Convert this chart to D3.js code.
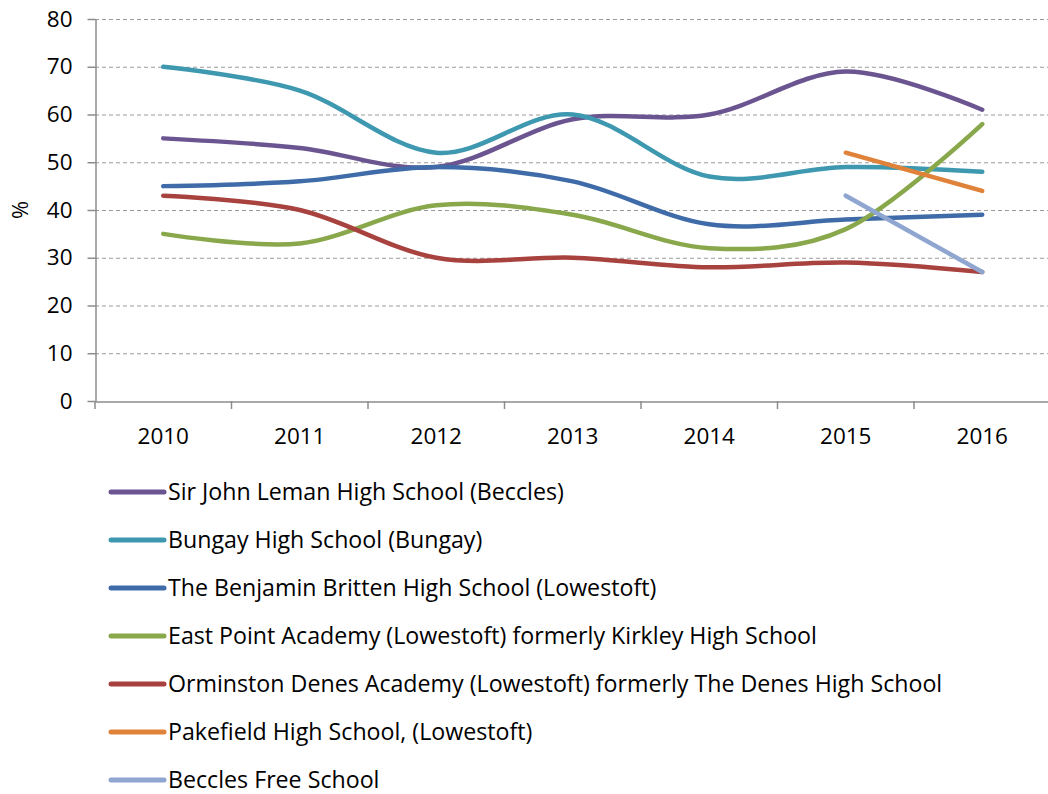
<!DOCTYPE html>
<html><head><meta charset="utf-8">
<script src="https://d3js.org/d3.v7.min.js"></script>
<style>body{margin:0;background:#fff}svg{display:block}</style>
</head><body><svg id="c" width="1048" height="794"></svg>
<script>
const years = ["2010","2011","2012","2013","2014","2015","2016"];
const yTicks = [0,10,20,30,40,50,60,70,80];
const seriesNames = [
  "Sir John Leman High School (Beccles)",
  "Bungay High School (Bungay)",
  "The Benjamin Britten High School (Lowestoft)",
  "East Point Academy (Lowestoft) formerly Kirkley High School",
  "Orminston Denes Academy (Lowestoft) formerly The Denes High School",
  "Pakefield High School, (Lowestoft)",
  "Beccles Free School"
];
const sirJohnLeman = [55,53,49,59,60,69,61];
const bungay = [70,65,52,60,47,49,48];
const benjaminBritten = [45,46,49,46,37,38,39];
const eastPoint = [35,33,41,39,32,36,58];
const orminstonDenes = [43,40,30,30,28,29,27];
const pakefield = [null,null,null,null,null,52,44];
const becclesFree = [null,null,null,null,null,43,27];
const seriesValues = [sirJohnLeman,bungay,benjaminBritten,eastPoint,orminstonDenes,pakefield,becclesFree];
const colors = ["#6B5591","#3E98B0","#3F6CA8","#89A74B","#A8423F","#E0823A","#8FA6D0"];

const svg = d3.select("#c");
const L=95, R=1050.5, T=19, B=401;
const x = d3.scaleBand().domain(years).range([L,R]);
const y = d3.scaleLinear().domain([0,80]).range([B,T]);
const font = "'Open Sans', 'Noto Sans', sans-serif";

// gridlines
svg.append("g").selectAll("line").data(yTicks.filter(d=>d>0)).join("line")
  .attr("x1",L).attr("x2",R).attr("y1",d=>y(d)+0.5).attr("y2",d=>y(d)+0.5)
  .attr("stroke","#9a9a9a").attr("stroke-width",1).attr("stroke-dasharray","4,3");

// y axis
const ya = svg.append("g").attr("transform",`translate(${L+0.5},0)`)
  .call(d3.axisLeft(y).tickValues(yTicks).tickSize(8).tickPadding(15).tickSizeOuter(0));
ya.select(".domain").attr("stroke","#8c8c8c").attr("stroke-width",1.5);
ya.selectAll(".tick line").attr("stroke","#8c8c8c").attr("stroke-width",1.5);
ya.selectAll("text").attr("font-family",font).attr("font-size",22.5).attr("fill","#000");

// x axis
const xa = svg.append("g").attr("transform",`translate(0,${B+0.5})`)
  .call(d3.axisBottom(x).tickSize(0).tickPadding(27));
xa.select(".domain").attr("stroke","#8c8c8c").attr("stroke-width",1.5);
xa.selectAll("text").attr("font-family",font).attr("font-size",22.5).attr("fill","#000");
// band boundary ticks
const bounds = years.map(d=>x(d)).concat([R]);
svg.append("g").selectAll("line").data(bounds).join("line")
  .attr("x1",d=>d).attr("x2",d=>d).attr("y1",B).attr("y2",B+8)
  .attr("stroke","#8c8c8c").attr("stroke-width",1.5);

// y title
svg.append("text").attr("transform",`translate(20,${(T+B)/2}) rotate(-90)`)
  .attr("text-anchor","middle").attr("dy","0.35em").attr("font-family",font).attr("font-size",22).text("%");

// lines
const line = d3.line().defined(d=>d.v!=null)
  .x(d=>x(d.yr)+x.bandwidth()/2).y(d=>y(d.v)).curve(d3.curveCardinal.tension(0));
seriesValues.forEach((vals,i)=>{
  const data = vals.map((v,j)=>({yr:years[j],v}));
  svg.append("path").datum(data).attr("d",line).attr("fill","none")
    .attr("stroke",colors[i]).attr("stroke-width",4.5).attr("stroke-linecap","round");
});

// legend
const lg = svg.append("g");
seriesNames.forEach((n,i)=>{
  const cy = 492 + i*48;
  lg.append("line").attr("x1",111).attr("x2",164).attr("y1",cy).attr("y2",cy)
    .attr("stroke",colors[i]).attr("stroke-width",5).attr("stroke-linecap","round");
  lg.append("text").attr("x",168).attr("y",cy).attr("dy","0.36em")
    .attr("font-family",font).attr("font-size",23.2).text(n);
});
</script></body></html>
